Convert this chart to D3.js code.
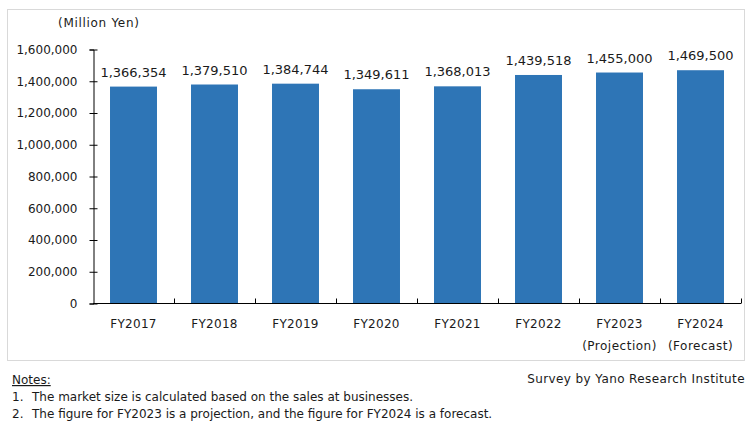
<!DOCTYPE html>
<html><head><meta charset="utf-8">
<script src="https://cdn.jsdelivr.net/npm/d3@7"></script>
<style>
body{margin:0;background:#fff;}
text{font-family:"DejaVu Sans",Verdana,sans-serif;fill:#1a1a1a;}
</style></head>
<body>
<svg id="c" width="751" height="429"></svg>
<script>
const categories = ["FY2017","FY2018","FY2019","FY2020","FY2021","FY2022","FY2023","FY2024"];
const subLabels = ["","","","","","","(Projection)","(Forecast)"];
const values = [1366354,1379510,1384744,1349611,1368013,1439518,1455000,1469500];
const yTicks = [0,200000,400000,600000,800000,1000000,1200000,1400000,1600000];
const unitLabel = "(Million Yen)";
const noteNums = ["1.","2."];
const notes = ["The market size is calculated based on the sales at businesses.",
               "The figure for FY2023 is a projection, and the figure for FY2024 is a forecast."];
const source = "Survey by Yano Research Institute";

const svg = d3.select("#c");
svg.append("rect").attr("x",7.5).attr("y",9.5).attr("width",737).attr("height",351)
  .attr("fill","#fff").attr("stroke","#d9d9d9");

const x0 = 93, x1 = 741, yTop = 49.5, yBot = 303.5;
const x = d3.scaleBand().domain(categories).range([x0,x1]).paddingInner(0.42).paddingOuter(0.21);
const y = d3.scaleLinear().domain([0,1600000]).range([yBot,yTop]);
const fmt = d3.format(",");

// bars
svg.append("g").selectAll("rect").data(values).join("rect")
  .attr("x",(d,i)=>x(categories[i])).attr("width",x.bandwidth())
  .attr("y",d=>y(d)).attr("height",d=>yBot-y(d)).attr("fill","#2e75b6");

// value labels
svg.append("g").selectAll("text").data(values).join("text")
  .attr("x",(d,i)=>x(categories[i])+x.bandwidth()/2).attr("y",d=>y(d)-10)
  .attr("text-anchor","middle").attr("font-size","13px").text(d=>fmt(d));

// y axis
const yAxis = svg.append("g").attr("transform",`translate(${x0+0.5},0)`)
  .call(d3.axisLeft(y).tickValues(yTicks).tickFormat(fmt).tickSize(4).tickPadding(12));
yAxis.select(".domain").attr("stroke","#000");
yAxis.selectAll(".tick line").attr("stroke","#000").attr("x1",4).attr("x2",-4);
yAxis.selectAll(".tick text").attr("font-size","12px").attr("font-family","DejaVu Sans").attr("fill","#1a1a1a");

// x axis
const xs = d3.scaleLinear().domain([0,categories.length]).range([x0,x1]);
const xAxis = svg.append("g").attr("transform",`translate(0,${yBot})`);
xAxis.append("line").attr("x1",x0).attr("x2",x1).attr("stroke","#000");
xAxis.selectAll("line.t").data(d3.range(1,categories.length+1)).join("line").attr("class","t")
  .attr("x1",d=>Math.round(xs(d))+0.5).attr("x2",d=>Math.round(xs(d))+0.5).attr("y1",0).attr("y2",-5).attr("stroke","#000");
svg.append("g").selectAll("text").data(categories).join("text")
  .attr("x",d=>x(d)+x.bandwidth()/2).attr("y",328).attr("text-anchor","middle")
  .attr("font-size","12px").attr("letter-spacing","0.3px").text(d=>d);
svg.append("g").selectAll("text").data(subLabels).join("text")
  .attr("x",(d,i)=>x(categories[i])+x.bandwidth()/2).attr("y",350).attr("text-anchor","middle")
  .attr("font-size","12px").attr("letter-spacing","0.5px").text(d=>d);

svg.append("text").attr("x",58).attr("y",27).attr("font-size","12px").attr("letter-spacing","0.7px").text(unitLabel);

// notes
svg.append("text").attr("x",12).attr("y",384).attr("font-size","12px").attr("text-decoration","underline").text("Notes:");
svg.append("g").selectAll("text").data(noteNums).join("text")
  .attr("x",12).attr("y",(d,i)=>401+i*17).attr("font-size","12px").text(d=>d);
svg.append("g").selectAll("text").data(notes).join("text")
  .attr("x",32).attr("y",(d,i)=>401+i*17).attr("font-size","12px").text(d=>d);
svg.append("text").attr("x",745).attr("y",383).attr("text-anchor","end").attr("font-size","12px").attr("letter-spacing","0.4px").text(source);
</script>
</body></html>
